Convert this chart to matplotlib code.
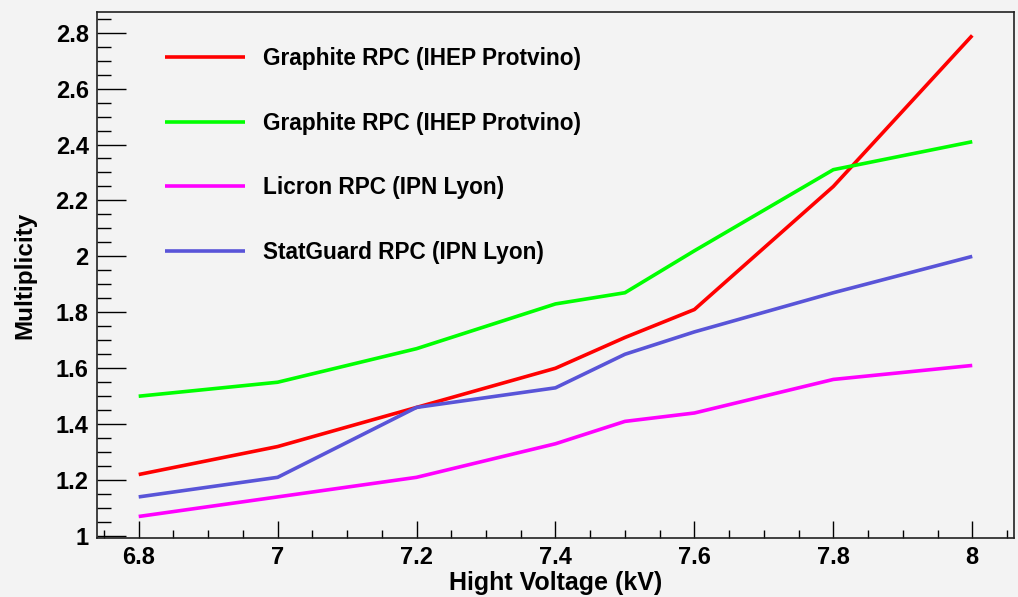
import matplotlib
matplotlib.use("Agg")
import matplotlib.pyplot as plt
from matplotlib.ticker import MultipleLocator, FormatStrFormatter

plt.rcParams["font.family"] = ["Liberation Sans", "DejaVu Sans"]
plt.rcParams["font.weight"] = "bold"

# data
voltage = [6.8, 7.0, 7.2, 7.4, 7.5, 7.6, 7.8, 8.0]
graphite_red = [1.22, 1.32, 1.46, 1.60, 1.71, 1.81, 2.25, 2.79]
graphite_green = [1.50, 1.55, 1.67, 1.83, 1.87, 2.02, 2.31, 2.41]
licron = [1.07, 1.14, 1.21, 1.33, 1.41, 1.44, 1.56, 1.61]
statguard = [1.14, 1.21, 1.46, 1.53, 1.65, 1.73, 1.87, 2.00]

labels = [
    "Graphite RPC (IHEP Protvino)",
    "Graphite RPC (IHEP Protvino)",
    "Licron RPC (IPN Lyon)",
    "StatGuard RPC (IPN Lyon)",
]
colors = ["#ff0000", "#00ff00", "#ff00ff", "#5954d8"]
series = [graphite_red, graphite_green, licron, statguard]

bg = "#f3f3f3"
fig = plt.figure(figsize=(10.18, 5.97), dpi=100, facecolor=bg)
ax = fig.add_axes([0.0953, 0.0988, 0.9007, 0.8812], facecolor=bg)

for ys, c, lab in zip(series, colors, labels):
    ax.plot(voltage, ys, color=c, lw=2.6, label=lab, solid_capstyle="butt")

ax.set_xlim(6.74, 8.06)
ax.set_ylim(0.993, 2.874)

ax.xaxis.set_major_locator(MultipleLocator(0.2))
ax.xaxis.set_minor_locator(MultipleLocator(0.05))
ax.yaxis.set_major_locator(MultipleLocator(0.2))
ax.yaxis.set_minor_locator(MultipleLocator(0.05))
ax.xaxis.set_major_formatter(FormatStrFormatter("%g"))
ax.yaxis.set_major_formatter(FormatStrFormatter("%g"))

ax.tick_params(axis="x", which="major", direction="in", length=12, width=1.0,
               labelsize=17, pad=6, top=False)
ax.tick_params(axis="x", which="minor", direction="in", length=6, width=1.0, top=False)
ax.tick_params(axis="y", which="major", direction="in", length=21, width=1.0,
               labelsize=17, pad=6, right=False)
ax.tick_params(axis="y", which="minor", direction="in", length=10, width=1.0, right=False)

for sp in ax.spines.values():
    sp.set_color("#222222")
    sp.set_linewidth(1.2)

ax.set_xlabel("Hight Voltage (kV)", fontsize=18, fontweight="bold", labelpad=1)
ax.set_ylabel("Multiplicity", fontsize=17.5, fontweight="bold", labelpad=14)

ax.legend(loc="upper left", bbox_to_anchor=(165 / 1018, 1 - 47 / 597),
          bbox_transform=fig.transFigure, frameon=False, fontsize=16.3,
          handlelength=3.55, handletextpad=0.8, labelspacing=1.84,
          borderpad=0, borderaxespad=0)

fig.savefig("out.png", dpi=100, facecolor=bg)
